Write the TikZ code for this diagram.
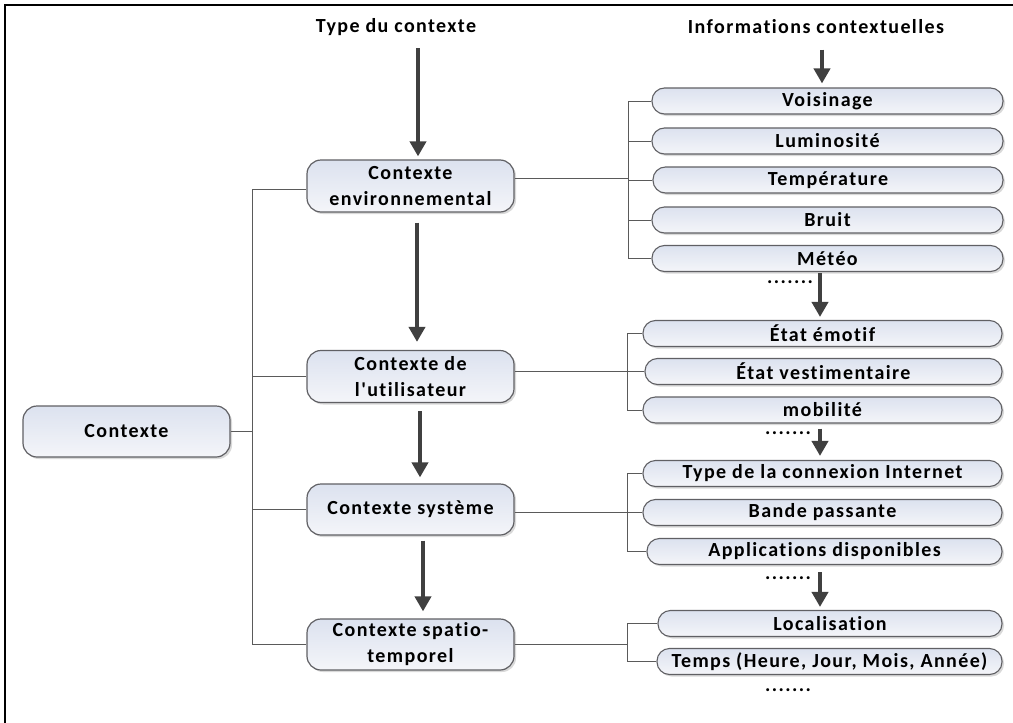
\documentclass[tikz,border=0pt]{standalone}
\usepackage{fontspec}
\newfontfamily\lbl[LetterSpace=7,Ligatures={NoCommon,NoRare}]{Carlito}
\usetikzlibrary{arrows.meta,shadows,calc}

\definecolor{boxtop}{RGB}{220,226,239}
\definecolor{boxbot}{RGB}{244,245,249}
\definecolor{boxedge}{RGB}{96,96,100}
\definecolor{linkgray}{RGB}{90,90,90}
\definecolor{arrowgray}{RGB}{64,64,64}

\begin{document}
\begin{tikzpicture}[x=1pt,y=-1pt,
  every node/.style={font=\lbl\bfseries\fontsize{20}{26}\selectfont, text=black},
  boxshadow/.style={drop shadow={shadow xshift=2pt, shadow yshift=-2pt, opacity=0.25, fill=black!60}},
  bigbox/.style={draw=boxedge, line width=1.2pt, rounded corners=14pt,
    top color=boxtop, bottom color=boxbot, minimum width=207pt,
    minimum height=51pt, inner sep=0pt, align=center, boxshadow},
  item/.style={draw=boxedge, line width=1.1pt, rounded corners=12.5pt,
    top color=boxtop, bottom color=boxbot, minimum height=26pt,
    inner sep=0pt, boxshadow},
  link/.style={draw=linkgray, line width=1pt},
  bigarrow/.style={draw=arrowgray, line width=4pt,
    -{Triangle[width=16pt,length=15pt]}},
  dots/.style={inner sep=0pt}
]
\useasboundingbox (0,0) rectangle (1013,723);

% frame
\draw[line width=2pt] (1013,5) -- (5,5) -- (5,723);

% column headings
\node (ttype) at (396,27) {Type du contexte};
\node (tinfo) at (816,27) {Informations contextuelles};

% context types
\node[bigbox] (ctx) at (126.5,431.5) {Contexte};
\node[bigbox, minimum height=52pt] (env) at (410.5,186) {Contexte\\environnemental};
\node[bigbox, minimum height=52pt] (usr) at (410.5,376.5) {Contexte de\\l'utilisateur};
\node[bigbox] (sys) at (410.5,509.5) {Contexte système};
\node[bigbox] (spt) at (410.5,644.5) {Contexte spatio-\\temporel};

% environmental information
\node[item, minimum width=351pt] (voi) at (827.5,101) {Voisinage};
\node[item, minimum width=351pt] (lum) at (827.5,141) {Luminosité};
\node[item, minimum width=350pt] (tem) at (828,180) {Température};
\node[item, minimum width=351pt] (bru) at (827.5,220) {Bruit};
\node[item, minimum width=351pt] (met) at (827.5,258.5) {Météo};
\node[dots] (d1) at (790,282) {.......};

% user information
\node[item, minimum width=359pt] (eta) at (822.5,333.5) {État émotif};
\node[item, minimum width=357pt] (ves) at (823.5,371.5) {État vestimentaire};
\node[item, minimum width=359pt] (mob) at (822.5,410) {mobilité};
\node[dots] (d2) at (788,433) {.......};

% system information
\node[item, minimum width=359pt] (typ) at (822.5,473.5) {Type de la connexion Internet};
\node[item, minimum width=359pt] (ban) at (822.5,512.5) {Bande passante};
\node[item, minimum width=355pt] (app) at (824.5,551.5) {Applications disponibles};
\node[dots] (d3) at (788,578) {.......};

% spatio-temporal information
\node[item, minimum width=344pt] (loc) at (830,623.5) {Localisation};
\node[item, minimum width=345pt] (tps) at (829.5,661.5) {Temps (Heure, Jour, Mois, Année)};
\node[dots] (d4) at (788,690) {.......};

% trunk and bus positions
\coordinate (trunk) at (252,0);
\coordinate (bus1) at (628,0);
\coordinate (bus2) at (627,0);

% tree from the root to the context types
\draw[link] ([yshift=-3pt]env.west) -- ([yshift=-3pt]env.west -| trunk) -- (spt.west -| trunk) -- (spt.west);
\draw[link] (usr.west) -- (usr.west -| trunk);
\draw[link] (sys.west) -- (sys.west -| trunk);
\draw[link] (ctx.east) -- (ctx.east -| trunk);

% environmental branch
\draw[link] (voi.west) -- (voi.west -| bus1) -- (met.west -| bus1) -- (met.west);
\draw[link] (lum.west) -- (lum.west -| bus1);
\draw[link] (tem.west) -- (tem.west -| bus1);
\draw[link] (bru.west) -- (bru.west -| bus1);
\draw[link] ([yshift=8pt]env.east) -- ([yshift=8pt]env.east -| bus1);

% user branch
\draw[link] (eta.west) -- (eta.west -| bus2) -- (mob.west -| bus2) -- (mob.west);
\draw[link] (ves.west) -- (ves.west -| bus2);
\draw[link] ([yshift=5pt]usr.east) -- ([yshift=5pt]usr.east -| bus2);

% system branch
\draw[link] (typ.west) -- (typ.west -| bus2) -- (app.west -| bus2) -- (app.west);
\draw[link] (ban.west) -- (ban.west -| bus2);
\draw[link] ([yshift=-2.5pt]sys.east) -- ([yshift=-2.5pt]sys.east -| bus2);

% spatio-temporal branch
\draw[link] (loc.west) -- (loc.west -| bus2) -- (tps.west -| bus2) -- (tps.west);
\draw[link] (spt.east) -- (spt.east -| bus2);

% flow arrows, left column
\draw[bigarrow] ($(ttype.south -| env.north)+(7.5,9)$) -- ($(env.north)+(7.5,-3)$);
\draw[bigarrow] ($(env.south)+(6.5,10)$) -- ($(usr.north)+(6.5,-8)$);
\draw[bigarrow] ($(usr.south)+(9.5,8)$) -- ($(sys.north)+(9.5,-6)$);
\draw[bigarrow] ($(sys.south)+(12.5,5)$) -- ($(spt.north)+(12.5,-7)$);

% flow arrows, right column
\draw[bigarrow] ($(tinfo.south)+(6,12)$) -- ($(voi.north -| tinfo.south)+(6,-4)$);
\draw[bigarrow] ($(met.south -| tinfo.south)+(4,1)$) -- ($(eta.north -| tinfo.south)+(4,-3)$);
\draw[bigarrow] ($(mob.south -| tinfo.south)+(4,5)$) -- ($(typ.north -| tinfo.south)+(4,-4)$);
\draw[bigarrow] ($(app.south -| tinfo.south)+(4,7)$) -- ($(loc.north -| tinfo.south)+(4,-3)$);
\end{tikzpicture}
\end{document}
